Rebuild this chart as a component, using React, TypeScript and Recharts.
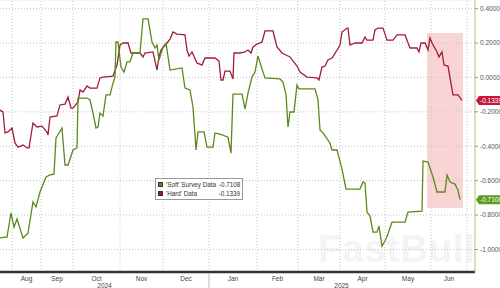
import {
  LineChart,
  Line,
  XAxis,
  YAxis,
  CartesianGrid,
  ReferenceLine,
  ReferenceArea,
  Legend,
} from "recharts";

// x is a trading-day index along the axis
const monthNames = ["Aug", "Sep", "Oct", "Nov", "Dec", "Jan", "Feb", "Mar", "Apr", "May", "Jun"];
const monthEdges = [6, 20.5, 36.5, 60, 81.5, 104.5, 128.5, 149, 170, 192.5, 215.5, 233.5];
const yearNames = ["2024", "2025"];
const yearEdges = [0, 104.5, 237];
const yTicks = [0.4, 0.2, 0, -0.2, -0.4, -0.6, -0.8, -1.0];

const softLast = -0.7108;
const hardLast = -0.1339;

const softPoints: [number, number][] = [
  [0, -0.933], [2.5, -0.928], [3.5, -0.928], [5.5, -0.788], [7, -0.87], [8.5, -0.823],
  [11.5, -0.933], [13, -0.916], [14, -0.905], [16.5, -0.724], [18, -0.753], [20, -0.666],
  [23, -0.579], [25, -0.567], [27, -0.562], [28, -0.352], [31, -0.294], [32.5, -0.509],
  [34, -0.509], [36.5, -0.422], [38.5, -0.41], [39, -0.12], [43.5, -0.12], [45, -0.131],
  [46.5, -0.207], [48, -0.294], [49, -0.288], [50, -0.207], [51.5, -0.225], [53, -0.102],
  [55, -0.102], [56.5, -0.033], [57.5, 0.002], [58, 0.206], [59, 0.206], [60.5, 0.06],
  [62, 0.031], [63.5, 0.09], [65, 0.09], [66.5, 0.142], [70, 0.142], [71.5, 0.34],
  [74, 0.34], [76, 0.206], [77.5, 0.171], [78.5, 0.188], [79.5, 0.101], [81.5, 0.177],
  [83, 0.2], [85, 0.043], [91, 0.055], [92.5, -0.062], [95, -0.073], [96.5, -0.172],
  [98, -0.422], [99, -0.317], [102, -0.317], [103.5, -0.405], [106.5, -0.405], [107.5, -0.323],
  [110, -0.33], [114, -0.347], [115.5, -0.44], [116.5, -0.097], [121, -0.097], [122.5, -0.184],
  [124, -0.091], [126, 0.002], [127.5, 0.031], [129, 0.124], [131, 0.049], [132.5, -0.003],
  [140, -0.009], [141.5, -0.027], [143, -0.102], [144, -0.288], [145, -0.201], [147, -0.201],
  [148.5, -0.044], [149.5, -0.067], [157.5, -0.067], [159, -0.131], [160, -0.306], [161.5, -0.323],
  [164, -0.364], [165, -0.381], [166, -0.422], [168.5, -0.422], [171, -0.533], [173, -0.649],
  [180, -0.649], [181.5, -0.608], [182.5, -0.614], [183.5, -0.783], [185, -0.806], [186.5, -0.899],
  [188.5, -0.899], [189.5, -0.864], [191, -0.98], [192.5, -0.951], [194, -0.91], [196, -0.841],
  [202.5, -0.841], [204, -0.783], [211, -0.777], [211.5, -0.486], [214, -0.492], [216.5, -0.579],
  [218.5, -0.666], [222.5, -0.666], [223.5, -0.567], [225, -0.608], [227.5, -0.62], [229, -0.655],
  [230, softLast],
];

const hardPoints: [number, number][] = [
  [0, -0.19], [1.5, -0.201], [2.5, -0.323], [4, -0.317], [6, -0.294], [7.5, -0.381],
  [9, -0.405], [11.5, -0.393], [13.5, -0.41], [14.5, -0.41], [16.5, -0.265], [18.5, -0.288],
  [21, -0.283], [23.5, -0.317], [24, -0.335], [25, -0.23], [28.5, -0.224], [30, -0.16],
  [32.5, -0.155], [34, -0.114], [35.5, -0.178], [36.5, -0.178], [39, -0.143], [40, -0.073],
  [41.5, -0.085], [43.5, -0.05], [45, -0.062], [48.5, -0.062], [50, -0.003], [51.5, 0.002],
  [56.5, 0.008], [58.5, 0.072], [60, 0.188], [61.5, 0.2], [64, 0.2], [65.5, 0.142],
  [70, 0.142], [71.5, 0.119], [72.5, 0.142], [76.5, 0.148], [78.5, 0.043], [79.5, 0.119],
  [80.5, 0.159], [83.5, 0.2], [85, 0.223], [86.5, 0.264], [88.5, 0.252], [92.5, 0.247],
  [93.5, 0.159], [94.5, 0.124], [96, 0.148], [98.5, 0.084], [101, 0.072], [102.5, 0.113],
  [107.5, 0.113], [109.5, 0.095], [110.5, -0.015], [111.5, -0.015], [112.5, 0.037], [115, 0.037],
  [116.5, -0.009], [117, 0.142], [120, 0.142], [122.5, 0.148], [124, 0.159], [125.5, 0.142],
  [126.5, 0.177], [128.5, 0.194], [131, 0.206], [132.5, 0.27], [136.5, 0.27], [138.5, 0.177],
  [141, 0.142], [145, 0.119], [148.5, 0.066], [150, 0.031], [153.5, 0.002], [158.5, -0.003],
  [159.5, -0.015], [161, 0.06], [162.5, 0.066], [164, 0.101], [166, 0.113], [168.5, 0.159],
  [170, 0.188], [171, 0.264], [173.5, 0.287], [174, 0.287], [175, 0.188], [177.5, 0.2],
  [181, 0.2], [182.5, 0.235], [183.5, 0.217], [186.5, 0.217], [187.5, 0.276], [189, 0.287],
  [191.5, 0.287], [193.5, 0.217], [196.5, 0.217], [198.5, 0.247], [202.5, 0.247], [205, 0.171],
  [208.5, 0.171], [209.5, 0.148], [210.5, 0.2], [212.5, 0.2], [214, 0.159], [215, 0.229],
  [216, 0.2], [218.5, 0.148], [219.5, 0.119], [221, 0.148], [222, 0.072], [224, 0.066],
  [226.5, -0.102], [229, -0.102], [231, hardLast],
];

// shaded recent window
const shadeX = [213.5, 231.5];
const shadeY = [-0.759, 0.258];

const GREEN = "#5a8a1c";
const RED = "#a01d36";
const FONT = "'Liberation Sans', Arial, sans-serif";

// merge both series onto one x index
const byX = new Map<number, { x: number; soft?: number; hard?: number }>();
softPoints.forEach(([x, v]) => byX.set(x, { ...(byX.get(x) || { x }), soft: v }));
hardPoints.forEach(([x, v]) => byX.set(x, { ...(byX.get(x) || { x }), hard: v }));
const data = [...byX.values()].sort((a, b) => a.x - b.x);

const monthMids = monthNames.map((_, i) => (monthEdges[i] + monthEdges[i + 1]) / 2);
const yearMids = yearNames.map((_, i) => (yearEdges[i] + yearEdges[i + 1]) / 2);
const yearSplit = yearEdges[1];
const xTicks = [...monthMids, ...yearMids, yearSplit];

function MonthTick(props: any) {
  const { x, y, payload } = props;
  const v = payload.value;
  const mi = monthMids.indexOf(v);
  if (mi >= 0) {
    return (
      <text x={x} y={y + 9} textAnchor="middle" fontSize={6.5} fill="#444" fontFamily={FONT}>
        {monthNames[mi]}
      </text>
    );
  }
  const yi = yearMids.indexOf(v);
  if (yi >= 0) {
    return (
      <text x={x} y={y + 15.5} textAnchor="middle" fontSize={6.5} fill="#444" fontFamily={FONT}>
        {yearNames[yi]}
      </text>
    );
  }
  return <line x1={x} x2={x} y1={y + 1} y2={y + 16} stroke="#bbb" strokeWidth={1} />;
}

function Badge(props: any) {
  const { viewBox, text, fill } = props;
  const x = viewBox.x + viewBox.width + 1;
  const y = viewBox.y;
  return (
    <g>
      <path
        d={`M${x} ${y} L${x + 3} ${y - 4.5} H${x + 26} V${y + 4.5} H${x + 3} Z`}
        fill={fill}
      />
      <text x={x + 4} y={y + 2.4} fontSize={6.5} fill="#fff" fontFamily={FONT}>
        {text}
      </text>
    </g>
  );
}

function LegendBox() {
  const row = (color: string, name: string, val: string) => (
    <div style={{ display: "flex", alignItems: "center", height: 9, whiteSpace: "nowrap" }}>
      <span
        style={{
          width: 5,
          height: 5,
          background: color,
          marginRight: 3,
          border: "0.5px solid #333",
          boxSizing: "border-box",
          flex: "none",
        }}
      />
      <span style={{ flex: 1 }}>{name}</span>
      <span style={{ marginLeft: 3 }}>{val}</span>
    </div>
  );
  return (
    <div
      style={{
        border: "1px solid #999",
        background: "#fff",
        padding: "1px 2px",
        fontSize: 6.3,
        fontFamily: FONT,
        color: "#333",
        lineHeight: "9px",
        width: 82,
      }}
    >
      {row(GREEN, "'Soft' Survey Data", softLast.toFixed(4))}
      {row(RED, "'Hard' Data", hardLast.toFixed(4))}
    </div>
  );
}

export default function App() {
  return (
    <div style={{ position: "absolute", left: 0, top: 0, width: 500, height: 288, background: "#fff" }}>
      <div
        style={{
          position: "absolute",
          left: 318,
          top: 228,
          fontSize: 38,
          fontWeight: 700,
          fontFamily: FONT,
          color: "#f4f4f4",
          letterSpacing: 1,
        }}
      >
        FastBull
      </div>
      <LineChart
        width={500}
        height={288}
        data={data}
        margin={{ top: 0, right: 0, bottom: 0, left: 0 }}
        style={{ position: "absolute", left: 0, top: 0 }}
      >
        <CartesianGrid vertical={false} stroke="#c4c4c4" strokeDasharray="1 2" />
        {monthEdges.map((e) => (
          <ReferenceLine key={e} x={e} stroke="#c4c4c4" strokeDasharray="1 2" />
        ))}
        <ReferenceArea
          x1={shadeX[0]}
          x2={shadeX[1]}
          y1={shadeY[0]}
          y2={shadeY[1]}
          fill="#f3b7b7"
          fillOpacity={0.6}
          stroke="none"
        />
        <XAxis
          dataKey="x"
          type="number"
          domain={[0, 237.5]}
          ticks={xTicks}
          interval={0}
          height={16}
          tickLine={false}
          tickSize={0}
          tickMargin={0}
          tick={<MonthTick />}
          axisLine={{ stroke: "#333", strokeWidth: 2.5 }}
        />
        <YAxis
          orientation="right"
          width={25}
          type="number"
          domain={[-1.131, 0.45]}
          ticks={yTicks}
          interval={0}
          tickSize={3}
          tickMargin={2}
          tickLine={{ stroke: "#999" }}
          axisLine={{ stroke: "#b3c07a" }}
          tick={{ fontSize: 6.5, fill: "#555", fontFamily: FONT, textAnchor: "start" }}
          tickFormatter={(v: number) => v.toFixed(4)}
        />
        <Line
          dataKey="hard"
          type="linear"
          stroke={RED}
          strokeWidth={1.3}
          dot={false}
          activeDot={false}
          connectNulls
          isAnimationActive={false}
        />
        <Line
          dataKey="soft"
          type="linear"
          stroke={GREEN}
          strokeWidth={1.3}
          dot={false}
          activeDot={false}
          connectNulls
          isAnimationActive={false}
        />
        <ReferenceLine
          y={hardLast}
          stroke="none"
          label={(p: any) => <Badge {...p} text={hardLast.toFixed(4)} fill="#c4173a" />}
        />
        <ReferenceLine
          y={softLast}
          stroke="none"
          label={(p: any) => <Badge {...p} text={softLast.toFixed(4)} fill="#5c9a1c" />}
        />
        <Legend
          verticalAlign="middle"
          layout="horizontal"
          wrapperStyle={{ position: "absolute", left: 155, top: 178, width: 88 }}
          content={() => <LegendBox />}
        />
      </LineChart>
    </div>
  );
}
